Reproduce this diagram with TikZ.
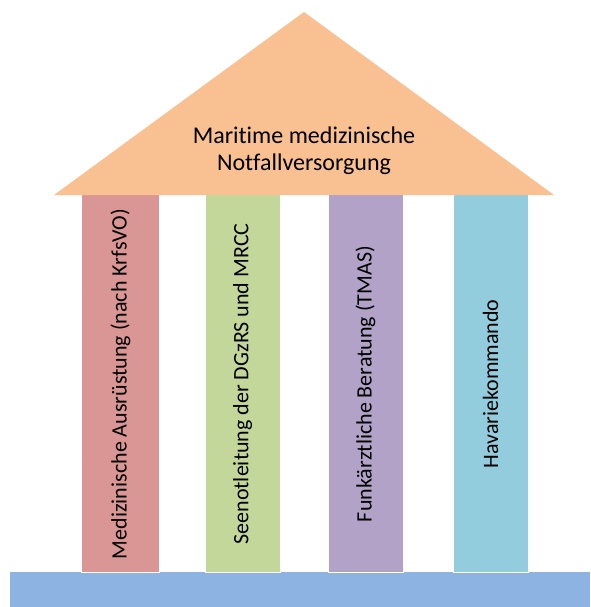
\documentclass[tikz,border=0pt]{standalone}
\usepackage{fontspec}
\setmainfont{Carlito}[Ligatures=NoCommon]
\usepackage{tikz}

\definecolor{dachfarbe}{HTML}{F9C091}
\definecolor{saeuleA}{HTML}{DA9694}
\definecolor{saeuleB}{HTML}{C4D79B}
\definecolor{saeuleC}{HTML}{B2A2C7}
\definecolor{saeuleD}{HTML}{93CDDD}
\definecolor{sockel}{HTML}{8DB3E2}

\begin{document}
\begin{tikzpicture}[x=1pt,y=-1pt,
    saeule/.style={draw=white,line width=0.6pt},
    schrift/.style={font=\fontsize{24}{27}\selectfont,align=center,inner sep=0pt},
    saeulentext/.style={font=\fontsize{22}{26}\selectfont,inner sep=0pt,rotate=90}]
          \useasboundingbox (0,0) rectangle (590,607);
          \fill[sockel] (10,572) rectangle (590,607);
          \filldraw[saeule,fill=saeuleA] (81.5,190) rectangle (159,572);
          \filldraw[saeule,fill=saeuleB] (205,190) rectangle (280,572);
          \filldraw[saeule,fill=saeuleC] (328,190) rectangle (403,572);
          \filldraw[saeule,fill=saeuleD] (453,190) rectangle (528,572);
          \fill[dachfarbe] (54,195) -- (304,12) -- (554,195) -- cycle;
          \node[schrift] (dach) at (304,151) {Maritime medizinische\\Notfallversorgung};
          \node[saeulentext] (ausruestung) at (120.5,384) {Medizinische Ausrüstung (nach KrfsVO)};
          \node[saeulentext] (seenot) at (242.5,384) {Seenotleitung der DGzRS und MRCC};
          \node[saeulentext] (tmas) at (365.5,384) {Funkärztliche Beratung (TMAS)};
          \node[saeulentext] (havarie) at (490.5,384) {Havariekommando};
        \end{tikzpicture}
\end{document}
